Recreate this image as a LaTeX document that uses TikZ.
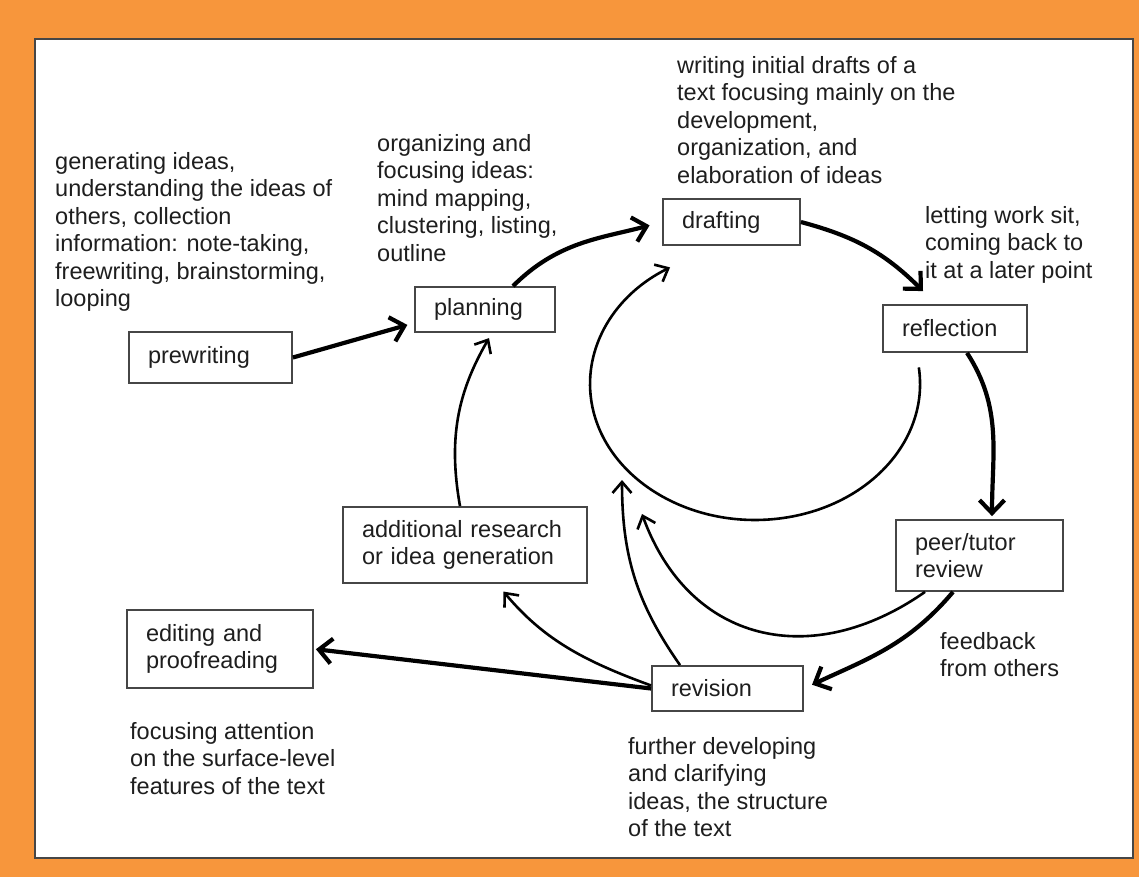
\documentclass[tikz,border=0pt]{standalone}
\usepackage{fontspec}
\setmainfont{Liberation Sans}
\usetikzlibrary{arrows.meta}
\definecolor{frameorange}{RGB}{247,150,60}
\definecolor{boxgray}{RGB}{70,70,70}
\definecolor{inkgray}{RGB}{30,30,30}
\newcommand{\cyclefont}{\fontsize{23.5}{27.5}\selectfont}

\begin{document}
\begin{tikzpicture}[
    x = 1pt, y = 1pt, % one unit per pixel of the layout
    thickarrow/.style = {line width=4.2pt, -{Straight Barb[length=13pt,width=25pt]}},
    thinarrow/.style = {line width=2.6pt, -{Straight Barb[length=11pt,width=19pt]}}
    ]

    \tikzset{stagebox/.style={
    draw = boxgray,
    line width = 1.8pt,
    fill = white,
    inner xsep = 19pt,
    inner ysep = 0pt,
    align = left,
    text = inkgray,
    font = \cyclefont
    }}
    \tikzset{notetext/.style={
    anchor = north west,
    inner sep = 0pt,
    align = left,
    text = inkgray,
    font = \cyclefont
    }}

    % frame
    \fill[frameorange] (0,0) rectangle (1139,-877);
    \filldraw[fill=white, draw=boxgray, line width=2pt] (35,-39) rectangle (1133,-858);
    \useasboundingbox (0,0) rectangle (1139,-877);

    % stages
    \node[stagebox, minimum width=163pt, text width=125pt, minimum height=51pt] (prewriting) at (210.5,-357.5) {prewriting};
    \node[stagebox, minimum width=140pt, text width=102pt, minimum height=45pt] (planning) at (485,-309.5) {planning};
    \node[stagebox, minimum width=137pt, text width=99pt, minimum height=46pt] (drafting) at (731.5,-222) {drafting};
    \node[stagebox, minimum width=144pt, text width=106pt, minimum height=47pt] (reflection) at (955,-328.5) {reflection};
    \node[stagebox, minimum width=167pt, text width=129pt, minimum height=71pt] (peer) at (979.5,-555.5) {peer/tutor\\review};
    \node[stagebox, minimum width=151pt, text width=113pt, minimum height=45pt, inner xsep=16pt] (revision) at (727.5,-688.5) {revision};
    \node[stagebox, minimum width=244pt, text width=206pt, minimum height=76pt] (additional) at (465,-545) {additional research\\or idea generation};
    \node[stagebox, minimum width=186pt, text width=148pt, minimum height=78pt] (editing) at (220,-649) {editing and\\proofreading};

    % notes
    \node[notetext] (prenote) at (55,-152) {generating ideas,\\understanding the ideas of\\others, collection\\information: note-taking,\\freewriting, brainstorming,\\looping};
    \node[notetext] (plannote) at (377,-134) {organizing and\\focusing ideas:\\mind mapping,\\clustering, listing,\\outline};
    \node[notetext] (draftnote) at (677,-56) {writing initial drafts of a\\text focusing mainly on the\\development,\\organization, and\\elaboration of ideas};
    \node[notetext] (reflnote) at (925,-206) {letting work sit,\\coming back to\\it at a later point};
    \node[notetext] (peernote) at (940,-632) {feedback\\from others};
    \node[notetext] (editnote) at (130,-722) {focusing attention\\on the surface-level\\features of the text};
    \node[notetext] (revnote) at (628,-737) {further developing\\and clarifying\\ideas, the structure\\of the text};

    % free ends on the inner loop
    \coordinate (loopstart) at (918.8,-367.4);
    \coordinate (revtip) at (622,-480);
    \coordinate (peertip) at (642,-514);

    % main cycle
    \draw[thickarrow, shorten >=7pt] (prewriting.east) -- ([yshift=-13.5pt]planning.west);
    \draw[thickarrow, shorten >=13pt] ([xshift=28pt]planning.north) to[out=45, in=195] (drafting.west);
    \draw[thickarrow] (drafting.east) to[out=-15, in=135] ([xshift=-32pt, yshift=13pt]reflection.north);
    \draw[thickarrow, shorten >=3pt] ([xshift=12pt]reflection.south) to[out=-57, in=90] ([xshift=12.5pt]peer.north);
    \draw[thickarrow, shorten >=9pt] ([xshift=-26.5pt]peer.south) to[out=-130, in=25] (revision.east);
    \draw[thickarrow, shorten >=2pt] (revision.west) -- (editing.east);

    % returns
    \draw[thinarrow] (loopstart) arc[start angle=7, end angle=-239, x radius=165pt, y radius=136pt];
    \draw[thinarrow, shorten >=6pt] ([xshift=-5pt]additional.north) to[out=100, in=240] ([xshift=7pt]planning.south);
    \draw[thinarrow, shorten >=10pt] ([yshift=3pt]revision.west) to[out=160, in=-50] ([xshift=32pt]additional.south);
    \draw[thinarrow] ([xshift=-47.5pt]revision.north) to[out=125, in=-90] (revtip);
    \draw[thinarrow] ([xshift=-54.5pt]peer.south) to[out=-145, in=-70, looseness=1.2] (peertip);
\end{tikzpicture}
\end{document}
